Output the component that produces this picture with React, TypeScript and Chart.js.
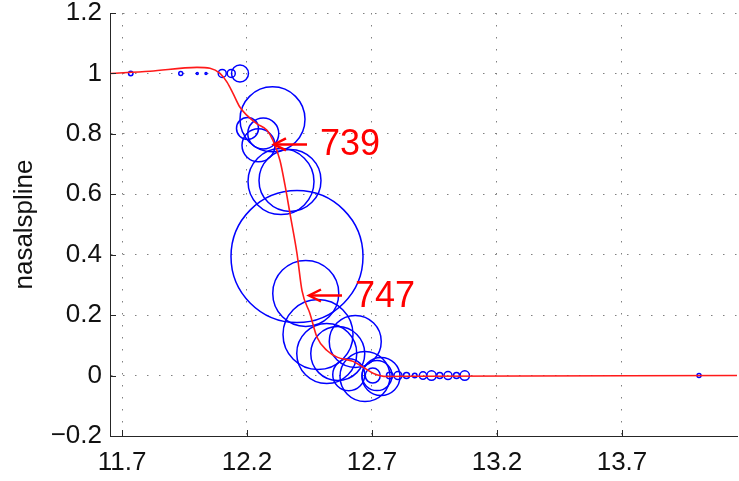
import { useEffect, useRef } from "react";
import { Chart, registerables } from "chart.js";

Chart.register(...registerables);

// ---- data ----
const xTicks = [11.7, 12.2, 12.7, 13.2, 13.7];
const xTickLabels = ["11.7", "12.2", "12.7", "13.2", "13.7"];
const yTicks = [-0.2, 0, 0.2, 0.4, 0.6, 0.8, 1, 1.2];
const yTickLabels = ["\u22120.2", "0", "0.2", "0.4", "0.6", "0.8", "1", "1.2"];
const xMin = 11.652;
const xMax = 14.16;
const yMin = -0.2;
const yMax = 1.2;

// red spline (nasalspline)
const curveX = [
  11.652, 11.812, 12.0, 12.052, 12.092, 12.12, 12.144, 12.172, 12.2, 12.24,
  12.28, 12.304, 12.332, 12.352, 12.372, 12.4, 12.42, 12.452, 12.48, 12.52,
  12.56, 12.624, 12.664, 12.704, 12.76, 12.892, 14.16,
];
const curveY = [
  1.0, 1.007, 1.02, 1.017, 1.0, 0.971, 0.934, 0.888, 0.861, 0.833,
  0.812, 0.778, 0.712, 0.63, 0.536, 0.404, 0.281, 0.205, 0.127, 0.083,
  0.061, 0.047, 0.028, 0.008, -0.003, -0.002, 0.0,
];

// blue bubbles
const bubbleX = [
  11.735, 11.935, 12.001, 12.036, 12.101, 12.137, 12.172,
  12.302, 12.202, 12.265, 12.246, 12.336, 12.372,
  12.4, 12.435,
  12.484, 12.519, 12.563, 12.633, 12.607, 12.672, 12.736, 12.72, 12.703,
  12.771, 12.804, 12.838, 12.871, 12.904, 12.938, 12.971, 13.004, 13.038, 13.071,
  14.008,
];
const bubbleY = [
  1.0, 1.0, 1.0, 1.0, 1.0, 1.0, 1.0,
  0.848, 0.818, 0.801, 0.762, 0.642, 0.646,
  0.394, 0.272,
  0.136, 0.073, 0.073, 0.113, 0.003, -0.003, -0.003, 0.0, 0.0,
  0.0, 0.0, 0.0, 0.0, 0.0, 0.0, 0.0, 0.0, 0.0, 0.0,
  0.0,
];
const bubbleR = [
  2.2, 2, 1, 1, 4, 4, 8.5,
  32.5, 11, 15.5, 16.5, 33, 31,
  66, 33,
  35, 30, 27, 26, 16, 25, 19, 15, 7.5,
  3.3, 4, 3, 2.3, 3.7, 4.7, 3, 4, 3, 4.7,
  2,
];

// annotations (arrow tip in data coordinates)
const noteLabels = ["739", "747"];
const noteX = [12.304, 12.444];
const noteY = [0.765, 0.265];

const FONT = '"Liberation Sans", Arial, Helvetica, sans-serif';

const overlayPlugin = {
  id: "overlay",
  afterDatasetsDraw(chart: any) {
    const { ctx, chartArea } = chart;
    const xs = chart.scales.x;
    const ys = chart.scales.y;
    ctx.save();
    // inward tick marks
    ctx.strokeStyle = "#262626";
    ctx.lineWidth = 1;
    yTicks.forEach((v) => {
      const py = Math.round(ys.getPixelForValue(v)) + 0.5;
      ctx.beginPath();
      ctx.moveTo(chartArea.left, py);
      ctx.lineTo(chartArea.left + 6, py);
      ctx.stroke();
    });
    xTicks.forEach((v) => {
      const px = Math.round(xs.getPixelForValue(v)) + 0.5;
      ctx.beginPath();
      ctx.moveTo(px, chartArea.bottom);
      ctx.lineTo(px, chartArea.bottom - 6);
      ctx.stroke();
    });
    // arrows + labels
    ctx.strokeStyle = "#ff0000";
    ctx.fillStyle = "#ff0000";
    ctx.lineWidth = 2.5;
    ctx.lineCap = "butt";
    ctx.lineJoin = "miter";
    noteLabels.forEach((label, i) => {
      const px = xs.getPixelForValue(noteX[i]);
      const py = ys.getPixelForValue(noteY[i]);
      ctx.beginPath();
      ctx.moveTo(px + 1, py);
      ctx.lineTo(px + 34, py);
      ctx.stroke();
      ctx.beginPath();
      ctx.moveTo(px + 13, py - 6);
      ctx.lineTo(px + 1, py);
      ctx.lineTo(px + 13, py + 6);
      ctx.stroke();
      ctx.font = `36px ${FONT}`;
      ctx.textBaseline = "alphabetic";
      ctx.textAlign = "left";
      ctx.fillText(label, px + 47, py + 11);
    });
    ctx.restore();
  },
};

export default function App() {
  const canvasRef = useRef<HTMLCanvasElement | null>(null);

  useEffect(() => {
    document.body.style.margin = "0";
    const canvas = canvasRef.current;
    if (!canvas) return;

    const bubbles = bubbleX.map((x, i) => ({ x, y: bubbleY[i], r: bubbleR[i] }));
    const curve = curveX.map((x, i) => ({ x, y: curveY[i] }));

    const chart = new Chart(canvas, {
      type: "bubble",
      data: {
        datasets: [
          {
            type: "line",
            data: curve,
            borderColor: "#ff1a1a",
            borderWidth: 1.6,
            pointRadius: 0,
            cubicInterpolationMode: "monotone",
            fill: false,
            order: 0,
          } as any,
          {
            type: "bubble",
            data: bubbles,
            borderColor: "#0000ff",
            backgroundColor: "rgba(0,0,0,0)",
            borderWidth: 1.5,
            order: 1,
          } as any,
        ],
      },
      options: {
        responsive: false,
        animation: false,
        events: [],
        layout: { autoPadding: false, padding: { left: 0, top: 13, right: 2, bottom: 0 } },
        plugins: {
          legend: { display: false },
          tooltip: { enabled: false },
        },
        scales: {
          x: {
            type: "linear",
            min: xMin,
            max: xMax,
            afterBuildTicks: (scale: any) => {
              scale.ticks = xTicks.map((v) => ({ value: v }));
            },
            afterFit: (scale: any) => {
              scale.height = 45;
              scale.paddingLeft = 0;
              scale.paddingRight = 0;
            },
            ticks: {
              padding: 11,
              color: "#111",
              font: { size: 26, family: FONT },
              maxRotation: 0,
              autoSkip: false,
              callback: (v: any) => xTickLabels[xTicks.indexOf(Number(v))] ?? "",
            },
            grid: { color: "#808080", lineWidth: 1, drawTicks: false },
            border: { display: true, color: "#262626", width: 1, dash: [1.5, 10.5] },
          },
          y: {
            type: "linear",
            min: yMin,
            max: yMax,
            afterBuildTicks: (scale: any) => {
              scale.ticks = yTicks.map((v) => ({ value: v }));
            },
            afterFit: (scale: any) => {
              scale.width = 110;
              scale.paddingTop = 0;
              scale.paddingBottom = 0;
            },
            ticks: {
              padding: 8,
              color: "#111",
              font: { size: 26, family: FONT },
              autoSkip: false,
              callback: (v: any) => {
                const idx = yTicks.findIndex((t) => Math.abs(t - Number(v)) < 1e-9);
                return idx >= 0 ? yTickLabels[idx] : "";
              },
            },
            title: {
              display: true,
              text: "nasalspline",
              color: "#111",
              font: { size: 26, family: FONT },
              padding: { top: 9, bottom: 0 },
            },
            grid: { color: "#808080", lineWidth: 1, drawTicks: false },
            border: { display: true, color: "#262626", width: 1, dash: [1.5, 10.5] },
          },
        },
      },
      plugins: [overlayPlugin],
    });

    return () => chart.destroy();
  }, []);

  return <canvas ref={canvasRef} width={739} height={481} style={{ display: "block" }} />;
}
